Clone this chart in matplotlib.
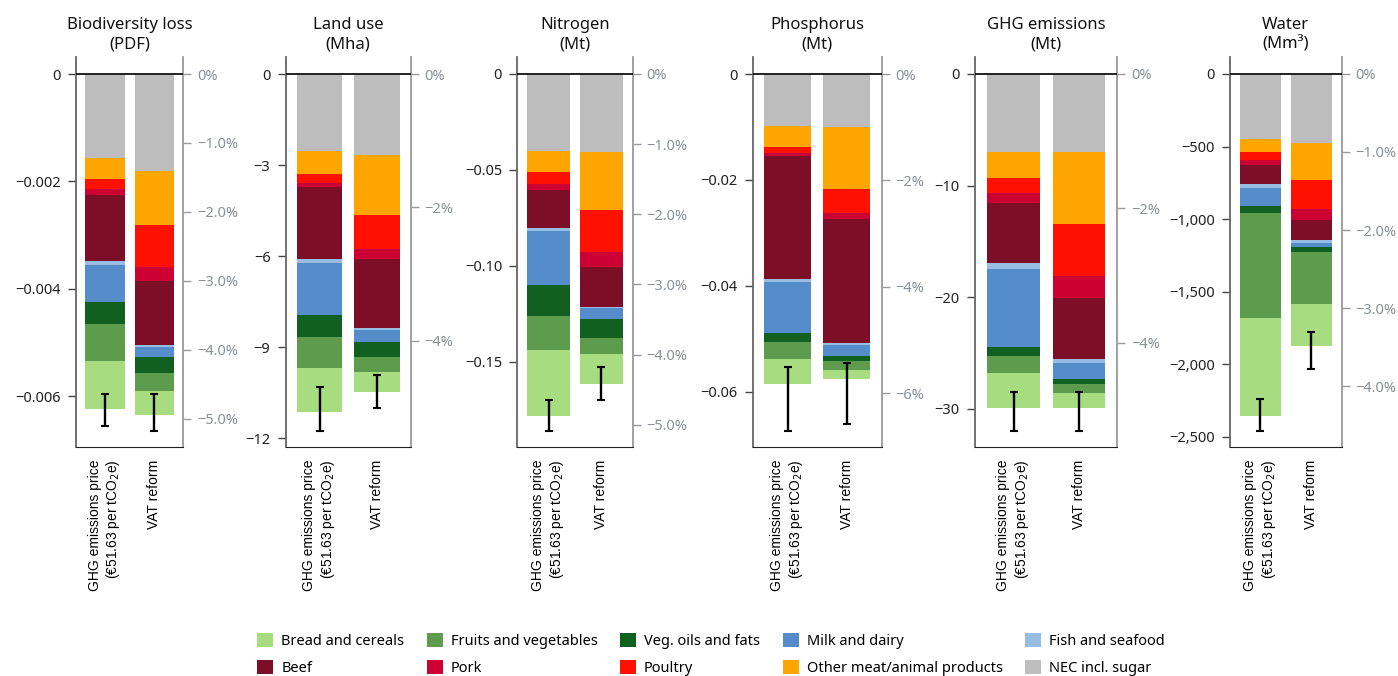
import numpy as np
import matplotlib
matplotlib.use("Agg")
import matplotlib.pyplot as plt
from matplotlib.patches import Patch

plt.rcParams['font.family'] = ['Noto Sans', 'DejaVu Sans']

# food groups, legend order (stacked from zero: last one first)
groups = ["Bread and cereals", "Fruits and vegetables", "Veg. oils and fats", "Milk and dairy",
          "Fish and seafood", "Beef", "Pork", "Poultry", "Other meat/animal products", "NEC incl. sugar"]
colors = ["#a8dc80", "#5d9c4d", "#126020", "#558dcb", "#98bde3",
          "#7c0e27", "#cc0033", "#ff1100", "#ffa500", "#bdbdbd"]
scenarios = ["GHG emissions price\n(€51.63 per tCO$_2$e)", "VAT reform"]

titles = ["Biodiversity loss\n(PDF)", "Land use\n(Mha)", "Nitrogen\n(Mt)",
          "Phosphorus\n(Mt)", "GHG emissions\n(Mt)", "Water\n(Mm³)"]

# reductions per food group (positive = reduction), [GHG price, VAT reform]
bio_ghg = [0.000888, 0.000690, 0.000410, 0.000689, 0.000075, 0.001229, 0.000112, 0.000186, 0.000398, 0.001559]
bio_vat = [0.000447, 0.000336, 0.000298, 0.000186, 0.000037, 0.001193, 0.000261, 0.000782, 0.001007, 0.001807]
land_ghg = [1.449, 1.021, 0.724, 1.713, 0.132, 2.371, 0.132, 0.296, 0.757, 2.536]
land_vat = [0.659, 0.494, 0.494, 0.395, 0.066, 2.272, 0.329, 1.120, 1.976, 2.667]
nit_ghg = [0.0344, 0.0179, 0.0160, 0.0283, 0.0014, 0.0198, 0.0031, 0.0063, 0.0110, 0.0402]
nit_vat = [0.0156, 0.0084, 0.0099, 0.0059, 0.0005, 0.0207, 0.0078, 0.0219, 0.0302, 0.0407]
pho_ghg = [0.00472, 0.00320, 0.00170, 0.00962, 0.00057, 0.02321, 0.00056, 0.00114, 0.00396, 0.00981]
pho_vat = [0.00170, 0.00170, 0.00095, 0.00207, 0.00038, 0.02339, 0.00113, 0.00453, 0.01170, 0.01000]
ghg_ghg = [3.11, 1.52, 0.81, 6.99, 0.54, 5.38, 0.89, 1.35, 2.33, 6.99]
ghg_vat = [1.32, 0.80, 0.45, 1.44, 0.35, 5.47, 1.97, 4.67, 6.45, 6.99]
wat_ghg = [673, 724, 48, 124, 30, 129, 34, 55, 90, 448]
wat_vat = [288, 358, 34, 28, 21, 138, 75, 200, 255, 476]

# uncertainty range of the total reduction (low, high) per scenario
bio_err = [(0.005957, 0.006553), (0.005957, 0.006652)]
land_err = [(10.32, 11.76), (9.91, 10.99)]
nit_err = [(0.1698, 0.1861), (0.1526, 0.1698)]
pho_err = [(0.05522, 0.06736), (0.05447, 0.06604)]
ghg_err = [(28.5, 32.0), (28.5, 32.0)]
wat_err = [(2240, 2461), (1781, 2031)]

# baseline totals, used for the % axis
baselines = [0.1284, 219.5, 3.657, 1.004, 602.0, 53770.0]

left_ticks = [[0, -0.002, -0.004, -0.006], [0, -3, -6, -9, -12], [0, -0.05, -0.10, -0.15],
              [0, -0.02, -0.04, -0.06], [0, -10, -20, -30], [0, -500, -1000, -1500, -2000, -2500]]
left_fmt = ["{:.3f}", "{:.0f}", "{:.2f}", "{:.2f}", "{:.0f}", "{:,.0f}"]
pct_ticks = [[0, -1, -2, -3, -4, -5], [0, -2, -4], [0, -1, -2, -3, -4, -5],
             [0, -2, -4, -6], [0, -2, -4], [0, -1, -2, -3, -4]]
pct_fmt = ["{:.1f}%", "{:.0f}%", "{:.1f}%", "{:.0f}%", "{:.0f}%", "{:.1f}%"]
ylims = [(0.000317, -0.00695), (0.56, -12.28), (0.00886, -0.1945),
         (0.00321, -0.0704), (1.52, -33.43), (117, -2571)]

data = [(bio_ghg, bio_vat), (land_ghg, land_vat), (nit_ghg, nit_vat),
        (pho_ghg, pho_vat), (ghg_ghg, ghg_vat), (wat_ghg, wat_vat)]
errs = [bio_err, land_err, nit_err, pho_err, ghg_err, wat_err]

# axes placement in pixels (left, right)
W, H = 1398, 676
ax_px = [(76, 183.3), (285.7, 410.7), (517.3, 632.7), (752.7, 881.7), (975, 1117.3), (1230, 1341.7)]
top_px, bot_px = 57, 447

fig = plt.figure(figsize=(W / 100, H / 100), dpi=100)

def fmt_num(v, f):
    if v == 0:
        return "0"
    return "\u2212" + f.format(-v)

for i in range(6):
    l, r = ax_px[i]
    ax = fig.add_axes([l / W, 1 - bot_px / H, (r - l) / W, (bot_px - top_px) / H])
    x = np.arange(2)
    for j in range(2):
        vals = np.array(data[i][j])
        bottom = 0.0
        for k in range(len(groups) - 1, -1, -1):
            ax.bar(x[j], -vals[k], bottom=bottom, width=0.8, color=colors[k], linewidth=0, zorder=2)
            bottom -= vals[k]
        lo, hi = errs[i][j]
        ax.errorbar(x[j], -(lo + hi) / 2, yerr=(hi - lo) / 2, fmt='none', ecolor='black',
                    elinewidth=1.7, capsize=3, capthick=1.5, zorder=4)
    ax.axhline(0, color='black', lw=1.2, zorder=3)
    ax.set_xlim(-0.59, 1.59)
    ax.set_ylim(ylims[i][1], ylims[i][0])
    ax.set_yticks(left_ticks[i])
    ax.set_yticklabels([fmt_num(v, left_fmt[i]) for v in left_ticks[i]], fontsize=10.5, color='#222222')
    ax.tick_params(axis='y', length=6, width=1, color='#444444', pad=5)
    ax.set_xticks(x)
    ax.set_xticklabels(scenarios, rotation=90, ha='center', va='top', fontsize=10,
                       family=['Liberation Sans', 'DejaVu Sans'])
    for lbl in ax.get_xticklabels():
        lbl.set_multialignment('right')
    ax.tick_params(axis='x', length=0, pad=9)
    ax.spines['top'].set_visible(False)
    ax.spines['right'].set_visible(False)
    ax.spines['left'].set_color('#666666')
    ax.spines['left'].set_linewidth(1.3)
    ax.spines['bottom'].set_color('#222222')
    ax.set_title(titles[i], fontsize=12, pad=6, color='#111111', linespacing=1.3)

    b = baselines[i]
    sec = ax.secondary_yaxis('right', functions=(lambda v, b=b: v / b * 100, lambda p, b=b: p * b / 100))
    sec.set_yticks(pct_ticks[i])
    sec.set_yticklabels(["0%" if p == 0 else "\u2212" + pct_fmt[i].format(-p) for p in pct_ticks[i]],
                        fontsize=10.5, color='#8a9198')
    sec.tick_params(length=6, width=1, color='#9a9a9a', pad=4)
    sec.spines['right'].set_color('#9a9a9a')
    sec.spines['right'].set_linewidth(1.3)

# legend, filled column-wise with 2 rows
order = [0, 5, 1, 6, 2, 7, 3, 8, 4, 9]
handles = [Patch(facecolor=colors[k], edgecolor='none') for k in order]
labels = [groups[k] for k in order]
fig.legend(handles, labels, ncol=5, loc='center', bbox_to_anchor=(0.5086, 0.0315), frameon=False,
           fontsize=10.5, handlelength=1.1, handleheight=1.1, handletextpad=0.55,
           columnspacing=1.54, labelspacing=0.75, borderpad=0)

fig.savefig("out.png", dpi=100)
